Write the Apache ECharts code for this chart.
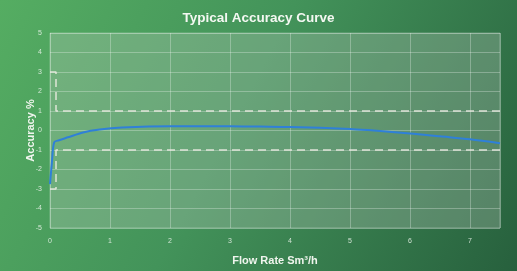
<!DOCTYPE html>
<html>
<head>
<meta charset="utf-8">
<script src="https://cdn.jsdelivr.net/npm/echarts@6/dist/echarts.min.js"></script>
<style>
  html, body { margin: 0; padding: 0; }
  #chart { width: 517px; height: 271px; }
</style>
</head>
<body>
<div id="chart"></div>
<script>
// 流量 (Sm3/h) 与精度 (%)
const flowRate = [0, 0.03, 0.07, 0.15, 0.3, 0.55, 0.83, 1.2, 2, 3, 3.5, 4, 5, 5.3, 6, 6.5, 7, 7.5]
const accuracy = [-2.75, -1.7, -0.6, -0.5, -0.35, -0.1, 0.05, 0.15, 0.22, 0.22, 0.2, 0.18, 0.08, 0.02, -0.15, -0.3, -0.45, -0.65]
// 误差限
const upperLimit = [[0, 3], [0.1, 3], [0.1, 1], [7.5, 1]]
const lowerLimit = [[0, -3], [0.1, -3], [0.1, -1], [7.5, -1]]

const myChart = echarts.init(document.getElementById('chart'))

const lineColor = 'rgba(255,255,255,0.28)'
const labelStyle = { color: 'rgba(235,245,235,0.85)', fontSize: 7, fontFamily: 'Liberation Sans' }
const limitStyle = { color: 'rgba(235,235,225,0.9)', width: 1.5, type: [8, 5] }

const option = {
  backgroundColor: {
    type: 'linear', x: 0, y: 0, x2: 1, y2: 1,
    colorStops: [
      { offset: 0, color: '#55ad62' },
      { offset: 0.45, color: '#43935a' },
      { offset: 1, color: '#27603d' }
    ]
  },
  title: {
    text: 'Typical Accuracy Curve',
    left: 'center',
    top: 6,
    textStyle: { color: '#f4f8f2', fontSize: 13.5, fontWeight: 'bold', fontFamily: 'Liberation Sans' }
  },
  grid: {
    left: 50, right: 17, top: 33, bottom: 37,
    show: true,
    backgroundColor: 'rgba(200,210,200,0.28)',
    borderColor: lineColor,
    borderWidth: 1
  },
  xAxis: {
    type: 'value',
    min: 0, max: 7.5, interval: 1,
    name: 'Flow Rate Sm³/h',
    nameLocation: 'middle',
    nameGap: 27,
    nameMoveOverlap: false,
    nameTextStyle: { color: '#f0f5ee', fontSize: 11, fontWeight: 'bold', fontFamily: 'Liberation Sans' },
    axisLine: { show: false },
    axisTick: { show: false },
    axisLabel: { ...labelStyle, margin: 10, showMaxLabel: false },
    splitLine: { lineStyle: { color: lineColor, width: 1 } }
  },
  yAxis: {
    type: 'value',
    min: -5, max: 5, interval: 1,
    name: 'Accuracy %',
    nameLocation: 'middle',
    nameGap: 14,
    nameMoveOverlap: false,
    nameTextStyle: { color: '#f0f5ee', fontSize: 11, fontWeight: 'bold', fontFamily: 'Liberation Sans' },
    axisLine: { show: false },
    axisTick: { show: false },
    axisLabel: { ...labelStyle, margin: 8 },
    splitLine: { lineStyle: { color: lineColor, width: 1 } }
  },
  series: [
    {
      name: 'upper',
      type: 'line',
      data: upperLimit,
      symbol: 'none',
      lineStyle: limitStyle,
      silent: true
    },
    {
      name: 'lower',
      type: 'line',
      data: lowerLimit,
      symbol: 'none',
      lineStyle: limitStyle,
      silent: true
    },
    {
      name: 'accuracy',
      type: 'line',
      data: flowRate.map((x, i) => [x, accuracy[i]]),
      smooth: 0.3,
      symbol: 'none',
      lineStyle: { color: '#2f80d8', width: 2 }
    }
  ]
}

myChart.setOption(option)
</script>
</body>
</html>
